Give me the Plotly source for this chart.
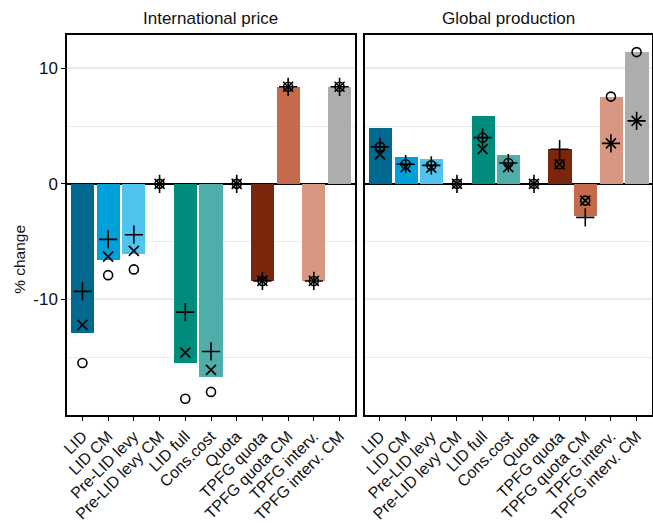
import plotly.graph_objects as go

categories = ["LID", "LID CM", "Pre-LID levy", "Pre-LID levy CM", "LID full", "Cons.cost",
              "Quota", "TPFG quota", "TPFG quota CM", "TPFG interv.", "TPFG interv. CM"]
colors = ["#00698F", "#00A0DA", "#50C3EF", "#FFFFFF", "#008C7D", "#4FADAA",
          "#FFFFFF", "#7A260C", "#C66A4C", "#D89783", "#ADADAD"]

price_bar = [-12.9, -6.6, -6.1, 0, -15.5, -16.7, 0, -8.4, 8.4, -8.4, 8.4]
price_plus = [-9.3, -4.8, -4.4, 0, -11.1, -14.5, 0, -8.4, 8.4, -8.4, 8.4]
price_x = [-12.2, -6.3, -5.8, 0, -14.6, -16.1, 0, -8.4, 8.4, -8.4, 8.4]
price_circle = [-15.5, -7.9, -7.4, 0, -18.6, -18.0, 0, -8.4, 8.4, -8.4, 8.4]

prod_bar = [4.85, 2.3, 2.15, 0, 5.9, 2.5, 0, 3.0, -2.75, 7.5, 11.4]
prod_plus = [3.2, 1.7, 1.6, 0, 4.0, 1.8, 0, 3.0, -2.9, 3.5, 5.45]
prod_x = [2.55, 1.45, 1.4, 0, 3.0, 1.45, 0, 1.7, -1.45, 3.5, 5.45]
prod_circle = [3.2, 1.7, 1.6, 0, 4.0, 1.8, 0, 1.7, -1.45, 7.55, 11.4]

panel_titles = ["International price", "Global production"]
y_title = "% change"

FONT = "Liberation Sans, Arial, sans-serif"
TXT = "#111111"

fig = go.Figure()

panels = [(price_bar, price_plus, price_x, price_circle, "x", "y"),
          (prod_bar, prod_plus, prod_x, prod_circle, "x2", "y2")]

for bar, plus, xs, circ, xa, ya in panels:
    fig.add_trace(go.Bar(x=categories, y=bar, marker=dict(color=colors, line=dict(width=0)),
                         width=0.9, xaxis=xa, yaxis=ya, showlegend=False))
    fig.add_trace(go.Scatter(x=categories, y=circ, mode="markers", xaxis=xa, yaxis=ya,
                             marker=dict(symbol="circle-open", size=9, color="black",
                                         line=dict(width=1.6, color="black")),
                             showlegend=False))
    fig.add_trace(go.Scatter(x=categories, y=plus, mode="markers", xaxis=xa, yaxis=ya,
                             marker=dict(symbol="cross-thin", size=13, color="black",
                                         line=dict(width=1.6, color="black")),
                             showlegend=False))
    fig.add_trace(go.Scatter(x=categories, y=xs, mode="markers", xaxis=xa, yaxis=ya,
                             marker=dict(symbol="x-thin", size=10, color="black",
                                         line=dict(width=1.6, color="black")),
                             showlegend=False))

yrange = [-20.0, 12.88]
common_x = dict(type="category", range=[-0.6, 10.6], tickangle=-45, ticks="outside",
                ticklen=4, tickwidth=1.2, tickcolor="black", showgrid=False,
                showline=True, linecolor="black", linewidth=1.5, mirror=True,
                automargin=False,
                tickfont=dict(family=FONT, size=16, color=TXT))
common_y = dict(range=yrange, tickvals=[-10, 0, 10], ticktext=["-10", "0", "10"],
                showgrid=True, gridcolor="#EBEBEB", gridwidth=1.6,
                minor=dict(tickvals=[-15, -5, 5], showgrid=True, gridcolor="#EBEBEB",
                           gridwidth=0.8, ticks=""),
                zeroline=True, zerolinecolor="black", zerolinewidth=2.2,
                showline=True, linecolor="black", linewidth=1.5, mirror=True,
                automargin=False)

fig.update_layout(
    width=653, height=523,
    margin=dict(l=67, r=1, t=35, b=108),
    paper_bgcolor="white", plot_bgcolor="white",
    bargap=0,
    font=dict(family=FONT, size=15, color=TXT),
    xaxis=dict(domain=[0, 0.4923], anchor="y", **common_x),
    xaxis2=dict(domain=[0.5087, 1], anchor="y2", **common_x),
    yaxis=dict(domain=[0, 1], anchor="x", ticks="outside", ticklen=4, tickwidth=1.2,
               tickcolor="black", tickfont=dict(family=FONT, size=17, color=TXT),
               **common_y),
    yaxis2=dict(domain=[0, 1], anchor="x2", showticklabels=False, ticks="", **common_y),
)

centers = [0.4923 / 2, (0.5087 + 1) / 2]
for c, t in zip(centers, panel_titles):
    fig.add_annotation(x=c, y=1, xref="paper", yref="paper", yshift=5,
                       xanchor="center", yanchor="bottom",
                       text=t, showarrow=False,
                       font=dict(family=FONT, size=17, color=TXT))

fig.add_annotation(x=0, y=(0 - yrange[0]) / (yrange[1] - yrange[0]) - 0.2, xref="paper", yref="paper",
                   xshift=-47, textangle=-90, text=y_title, showarrow=False,
                   xanchor="center", yanchor="middle",
                   font=dict(family=FONT, size=15.5, color=TXT))

fig.write_html("out.html", config={"displayModeBar": False},
               post_script="document.body.style.margin='0';document.body.style.overflow='hidden';")
